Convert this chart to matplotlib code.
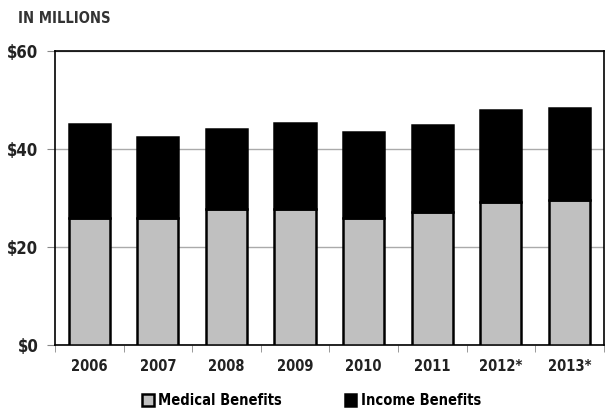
import matplotlib.pyplot as plt
import numpy as np

years = ["2006", "2007", "2008", "2009", "2010", "2011", "2012*", "2013*"]
medical = [25.9, 25.9, 27.7, 27.7, 25.9, 27.1, 29.1, 29.5]
income = [19.1, 16.5, 16.4, 17.5, 17.5, 17.7, 18.8, 18.9]
yticks = [0, 20, 40, 60]
ylabels = ["$0", "$20", "$40", "$60"]

plt.rcParams['font.family'] = ['DejaVu Sans']
plt.rcParams['font.stretch'] = 'condensed'

fig = plt.figure(figsize=(6.05, 4.13), dpi=100)
ax = fig.add_axes([0.0909, 0.1646, 0.907, 0.712])

x = np.arange(len(years))
ax.bar(x, medical, width=0.6, color='#c0c0c0', edgecolor='black', linewidth=1.8, zorder=3,
       label='Medical Benefits')
ax.bar(x, income, width=0.6, bottom=medical, color='black', edgecolor='black', linewidth=1.8,
       zorder=3, label='Income Benefits')

ax.set_xlim(-0.5, len(years) - 0.5)
ax.set_ylim(0, 60)
ax.set_yticks(yticks)
ax.set_yticklabels(ylabels, fontsize=12, fontweight='bold', color='#222222')
ax.set_xticks(x)
ax.set_xticklabels(years, fontsize=10.5, fontweight='bold', color='#222222')
ax.set_xticks(np.arange(len(years) + 1) - 0.5, minor=True)
ax.tick_params(axis='x', which='major', length=0, pad=10)
ax.tick_params(axis='x', which='minor', length=5, color='#888888')
ax.tick_params(axis='y', length=6, color='#888888', pad=6)
ax.yaxis.grid(True, color='#aaaaaa', linewidth=1)
ax.set_axisbelow(True)
for s in ax.spines.values():
    s.set_color('black')
    s.set_linewidth(1.2)

fig.text(0.03, 0.955, "IN MILLIONS", fontsize=10.5, fontweight='bold', color='#333333', va='center')

fig.legend(loc='center', bbox_to_anchor=(0.515, 0.03), ncol=2, frameon=False,
           prop={'size': 10.5, 'weight': 'bold'}, handlelength=0.8, handleheight=0.8,
           columnspacing=4.3, handletextpad=0.3)

fig.savefig('out.png', dpi=100)
